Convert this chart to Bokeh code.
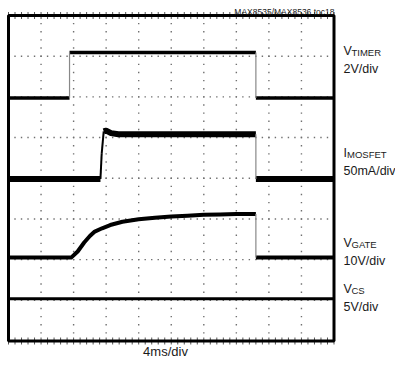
import numpy as np
from bokeh.plotting import figure
from bokeh.models import Range1d
from bokeh.core.properties import value
from bokeh.embed import file_html
from bokeh.resources import INLINE

# time axis in ms (4 ms/div, 10 div); vertical in screen divisions (8 div, 0 = bottom)
timer_t = [0.0, 7.5, 7.5, 30.4, 30.4, 40.0]
timer_v = [5.97, 5.97, 7.09, 7.09, 5.97, 5.97]

mos_t = [0.0, 11.3, 11.45, 11.7, 12.0, 12.6, 13.5, 30.4, 30.4, 40.0]
mos_v = [3.98, 3.98, 4.6, 5.15, 5.17, 5.11, 5.08, 5.08, 3.98, 3.98]

gate_t = [0.0, 7.7, 8.5, 9.3, 10.0, 10.6, 11.5, 12.5, 14.0, 16.0, 18.0, 20.0,
          22.0, 24.0, 26.0, 28.0, 30.4, 30.4, 40.0]
gate_v = [2.05, 2.05, 2.2, 2.42, 2.58, 2.69, 2.77, 2.85, 2.93, 2.99, 3.03, 3.06,
          3.08, 3.10, 3.11, 3.12, 3.12, 2.05, 2.05]

cs_t = [0.0, 40.0]
cs_v = [1.04, 1.04]

ch_names = ["TIMER", "MOSFET", "GATE", "CS"]
ch_prefix = ["V", "I", "V", "V"]
ch_scale = ["2V/div", "50mA/div", "10V/div", "5V/div"]
time_scale = "4ms/div"
title_text = "MAX8535/MAX8536 toc18"

X_DIVS, Y_DIVS, X_PER_DIV = 10, 8, 4.0
W, H = 395, 358
X0, X1 = 8.0, 333.5          # scope frame, canvas px
Y0, Y1 = 15.0, 340.5         # top, bottom (from canvas top)
SX = (X1 - X0) / (X_DIVS * X_PER_DIV)
SY = (Y1 - Y0) / Y_DIVS
FONT = "Liberation Sans"

p = figure(width=W, height=H, min_border=0,
           x_range=Range1d(-X0 / SX, (W - X0) / SX),
           y_range=Range1d(-(H - Y1) / SY, Y1 / SY),
           x_axis_type=None, y_axis_type=None,
           output_backend="svg", toolbar_location=None)
p.outline_line_color = None
p.background_fill_color = "white"
p.border_fill_color = "white"

# dotted graticule
xm = np.arange(0, X_DIVS * X_PER_DIV + 1e-6, X_PER_DIV / 5)
ym = np.arange(0, Y_DIVS + 1e-6, 0.2)
gx, gy = [], []
for k in range(1, Y_DIVS):
    gx += list(xm); gy += [k] * len(xm)
for k in range(1, X_DIVS):
    gx += [k * X_PER_DIV] * len(ym); gy += list(ym)
p.scatter(gx, gy, marker="square", size=1.4, fill_color="#707070", line_color=None)
# edge ticks
p.scatter(list(xm) * 2, [0] * len(xm) + [Y_DIVS] * len(xm), marker="dash", angle=np.pi / 2,
          size=7, line_color="#555555", line_width=1)


def draw(t, v, width):
    """Flat/slow parts thick, fast transitions thin (as on a scope screen)."""
    runs, cur = [], [(t[0], v[0])]
    steep, vert = [], []
    for i in range(len(t) - 1):
        dt_px = abs(t[i + 1] - t[i]) * SX
        dv_px = abs(v[i + 1] - v[i]) * SY
        if dt_px == 0 or dv_px / dt_px > 4:
            if len(cur) > 1:
                runs.append(cur)
            seg = ([t[i], t[i + 1]], [v[i], v[i + 1]])
            (vert if dt_px == 0 else steep).append(seg)
            cur = [(t[i + 1], v[i + 1])]
        else:
            cur.append((t[i + 1], v[i + 1]))
    if len(cur) > 1:
        runs.append(cur)
    p.multi_line([[a for a, b in r] for r in runs], [[b for a, b in r] for r in runs],
                 line_color="black", line_width=width, line_join="round")
    if vert:
        p.multi_line([s[0] for s in vert], [s[1] for s in vert],
                     line_color="#888888", line_width=1.2)
    if steep:
        p.multi_line([s[0] for s in steep], [s[1] for s in steep],
                     line_color="black", line_width=2)


draw(timer_t, timer_v, 3.5)
draw(mos_t, mos_v, 6)
draw(gate_t, gate_v, 4)
draw(cs_t, cs_v, 3)

# scope frame
p.quad(left=[0], right=[X_DIVS * X_PER_DIV], bottom=[0], top=[Y_DIVS],
       fill_color=None, line_color="black", line_width=3)


# text positions given in canvas px -> data
def dx(px):
    return (px - X0) / SX


def dy(py):
    return (Y1 - py) / SY


base = [50, 152, 242, 288]
LX = 343
px_, py_, pt_ = [], [], []
sx_, sy_, st_ = [], [], []
for name, pre, sc, b in zip(ch_names, ch_prefix, ch_scale, base):
    px_ += [dx(LX), dx(LX)]
    py_ += [dy(b), dy(b + 18)]
    pt_ += [pre, sc]
    sx_.append(dx(LX + (8 if pre == "V" else 3.5)))
    sy_.append(dy(b + 1.5))
    st_.append(name)
p.text(px_, py_, text=pt_, text_font=value(FONT), text_font_size="12.5px",
       text_color="#1a1a1a", text_baseline="alphabetic")
p.text(sx_, sy_, text=st_, text_font=value(FONT), text_font_size="9.5px",
       text_color="#1a1a1a", text_baseline="alphabetic")
p.text([dx(165)], [dy(351)], text=[time_scale], text_font=value(FONT), text_font_size="13px",
       text_color="#1a1a1a", text_align="center", text_baseline="alphabetic")
p.text([dx(334)], [dy(11)], text=[title_text], text_font=value(FONT), text_font_size="8.5px",
       text_color="#1a1a1a", text_align="right", text_baseline="alphabetic")

open("out.html", "w").write(file_html(p, INLINE))
